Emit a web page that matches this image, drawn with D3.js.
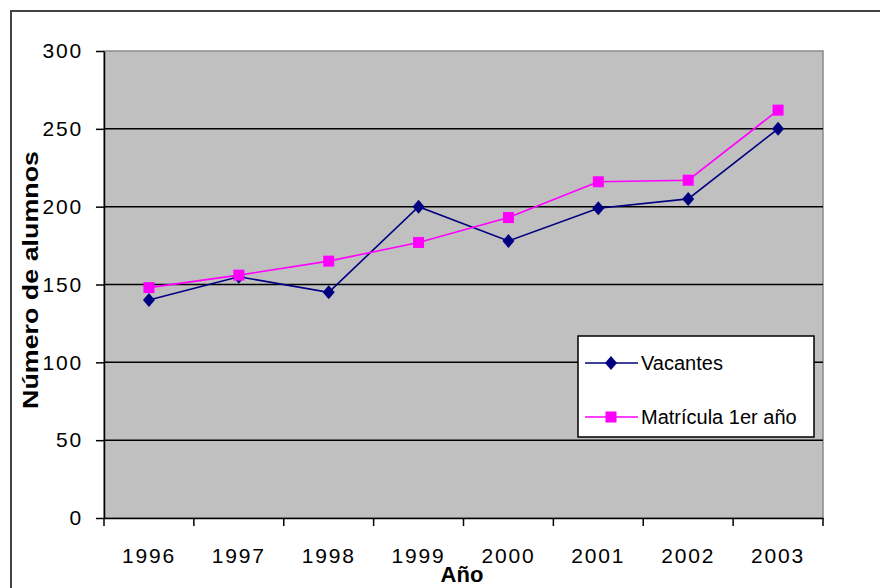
<!DOCTYPE html>
<html>
<head>
<meta charset="utf-8">
<script src="https://cdn.jsdelivr.net/npm/d3@7"></script>
<style>
  body { margin: 0; background: #fff; }
  text { font-family: "Liberation Sans", Arial, sans-serif; fill: #000; }
</style>
</head>
<body>
<svg width="880" height="588"></svg>
<script>
const years = ['1996', '1997', '1998', '1999', '2000', '2001', '2002', '2003'];
const vacantes = [140, 155, 145, 200, 178, 199, 205, 250];
const matricula = [148, 156, 165, 177, 193, 216, 217, 262];
const yTicks = [0, 50, 100, 150, 200, 250, 300];
const seriesNames = ['Vacantes', 'Matrícula 1er año'];

const svg = d3.select('svg');
const margin = { top: 51, left: 104, right: 57, bottom: 70 };
const width = +svg.attr('width') - margin.left - margin.right;
const height = +svg.attr('height') - margin.top - margin.bottom;

// outer frame (runs off the right and bottom of the picture)
svg.append('rect')
    .attr('x', 11).attr('y', 11)
    .attr('width', 900).attr('height', 600)
    .attr('fill', 'none')
    .attr('stroke', '#444').attr('stroke-width', 2);

const g = svg.append('g').attr('transform', `translate(${margin.left}, ${margin.top})`);

const x = d3.scaleBand().domain(years).range([0, width]).padding(0);
const y = d3.scaleLinear().domain([0, 300]).range([height, 0]);

// plot area
g.append('rect')
    .attr('width', width).attr('height', height)
    .attr('fill', '#c0c0c0')
    .attr('stroke', '#8a8a8a').attr('stroke-width', 1.5);

// gridlines
g.selectAll('.grid')
    .data(yTicks.filter(d => d > 0 && d < 300))
    .enter().append('line')
    .attr('x1', 0).attr('x2', width)
    .attr('y1', d => y(d)).attr('y2', d => y(d))
    .attr('stroke', '#000').attr('stroke-width', 1.5);

// y axis
const yAxis = d3.axisLeft(y).tickValues(yTicks).tickSize(8).tickPadding(13).tickSizeOuter(0);
g.append('g')
    .call(yAxis)
    .call(a => {
        a.select('.domain').attr('stroke', '#000').attr('stroke-width', 1.5);
        a.selectAll('.tick line').attr('stroke', '#000').attr('stroke-width', 1.5);
        a.selectAll('.tick text')
            .style('font-size', '21px')
            .style('letter-spacing', '1.8px')
            .attr('fill', '#000');
    });

// x axis: labels at band centres, ticks at band edges
const xAxis = d3.axisBottom(x).tickSize(0).tickPadding(30);
g.append('g')
    .attr('transform', `translate(0, ${height})`)
    .call(xAxis)
    .call(a => {
        a.select('.domain').attr('stroke', '#000').attr('stroke-width', 1.5);
        a.selectAll('.tick text')
            .style('font-size', '21px')
            .style('letter-spacing', '1.8px')
            .attr('fill', '#000');
    });

g.selectAll('.xtick')
    .data(years.concat(['end']))
    .enter().append('line')
    .attr('x1', (d, i) => i * x.bandwidth())
    .attr('x2', (d, i) => i * x.bandwidth())
    .attr('y1', height).attr('y2', height + 8)
    .attr('stroke', '#000').attr('stroke-width', 1.5);

// series
const series = [
    { name: seriesNames[0], values: vacantes, color: '#000080', marker: 'diamond' },
    { name: seriesNames[1], values: matricula, color: '#ff00ff', marker: 'square' }
];

const line = d3.line()
    .x((d, i) => x(years[i]) + x.bandwidth() / 2)
    .y(d => y(d));

function drawMarker(sel, s) {
    if (s.marker === 'diamond') {
        sel.append('path')
            .attr('d', 'M0,-7L6,0L0,7L-6,0Z')
            .attr('fill', s.color);
    } else {
        sel.append('rect')
            .attr('x', -5.5).attr('y', -5.5)
            .attr('width', 11).attr('height', 11)
            .attr('fill', s.color);
    }
}

series.forEach(s => {
    g.append('path')
        .datum(s.values)
        .attr('d', line)
        .attr('fill', 'none')
        .attr('stroke', s.color)
        .attr('stroke-width', 1.6);
});
series.forEach(s => {
    g.selectAll(null)
        .data(s.values)
        .enter().append('g')
        .attr('transform', (d, i) => `translate(${x(years[i]) + x.bandwidth() / 2}, ${y(d)})`)
        .each(function () { drawMarker(d3.select(this), s); });
});

// legend
const legend = svg.append('g').attr('transform', 'translate(578, 336)');
legend.append('rect')
    .attr('width', 236).attr('height', 101)
    .attr('fill', '#fff')
    .attr('stroke', '#000').attr('stroke-width', 1.5);

series.forEach((s, i) => {
    const row = legend.append('g').attr('transform', `translate(0, ${27 + i * 54})`);
    row.append('line')
        .attr('x1', 7).attr('x2', 60)
        .attr('stroke', s.color).attr('stroke-width', 1.6);
    const m = row.append('g').attr('transform', 'translate(33, 0)');
    drawMarker(m, s);
    row.append('text')
        .attr('x', 63).attr('dy', '0.35em')
        .style('font-size', '20px')
        .text(s.name);
});

// axis titles
svg.append('text')
    .attr('x', 462).attr('y', 582)
    .attr('text-anchor', 'middle')
    .style('font-size', '22px').style('font-weight', 'bold')
    .text('Año');

svg.append('text')
    .attr('transform', 'translate(38, 280) rotate(-90)')
    .attr('text-anchor', 'middle')
    .attr('textLength', 258).attr('lengthAdjust', 'spacingAndGlyphs')
    .style('font-size', '22px').style('font-weight', 'bold')
    .text('Número de alumnos');
</script>
</body>
</html>
